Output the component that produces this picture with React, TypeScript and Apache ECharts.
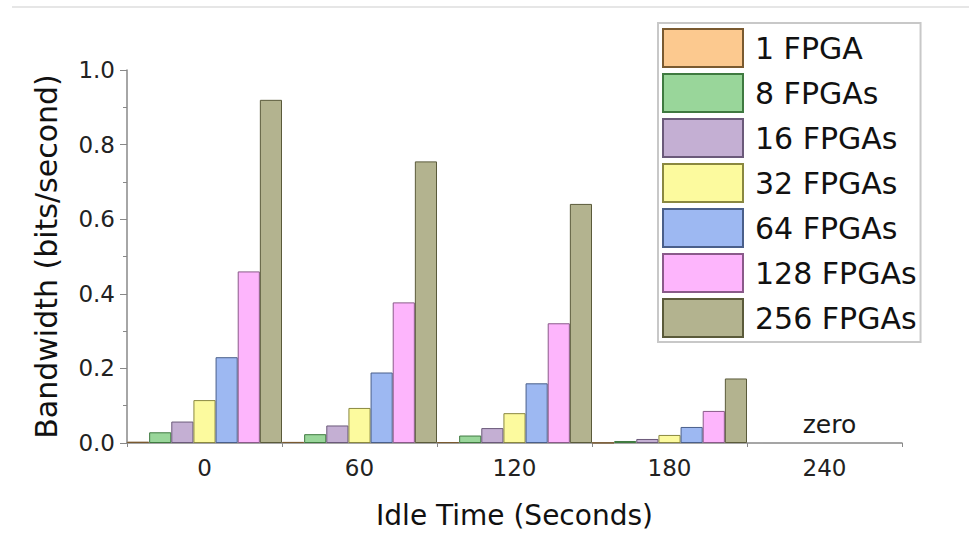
import React, { useEffect, useRef } from "react";
import * as echarts from "echarts";

const categories = ["0", "60", "120", "180", "240"];
const seriesNames = ["1 FPGA", "8 FPGAs", "16 FPGAs", "32 FPGAs", "64 FPGAs", "128 FPGAs", "256 FPGAs"];
const fpga1 = [0.0036, 0.003, 0.0025, 0.0007, 0];
const fpga8 = [0.0287, 0.0236, 0.02, 0.0054, 0];
const fpga16 = [0.0575, 0.047, 0.04, 0.0108, 0];
const fpga32 = [0.115, 0.094, 0.08, 0.0216, 0];
const fpga64 = [0.23, 0.189, 0.16, 0.043, 0];
const fpga128 = [0.46, 0.377, 0.321, 0.086, 0];
const fpga256 = [0.92, 0.755, 0.641, 0.173, 0];
const yTicks = [0, 0.2, 0.4, 0.6, 0.8, 1.0];
const zeroNote = "zero";
const zeroCategory = "240";

const colors = ["#fcc98f", "#99d69a", "#c4afd3", "#fcfa9e", "#9db8f2", "#fdb5fc", "#b3b38f"];
const borders = ["#7a5a30", "#3f7a40", "#6b5a7a", "#8a8840", "#4a5f8a", "#8a5a8a", "#5a5a3a"];

const FONT = "DejaVu Sans";

export default function App() {
  const ref = useRef<HTMLDivElement>(null);
  useEffect(() => {
    document.body.style.margin = "0";
    const chart = echarts.init(ref.current!, null, { renderer: "svg" });
    const allData = [fpga1, fpga8, fpga16, fpga32, fpga64, fpga128, fpga256];
    const series: any[] = allData.map((d, i) => ({
      name: seriesNames[i],
      type: "bar",
      data: d.map((v) => (v === 0 ? { value: 0, itemStyle: { borderWidth: 0 } } : v)),
      barGap: "0%",
      barCategoryGap: "0%",
      itemStyle: { color: colors[i], borderColor: borders[i], borderWidth: 1 },
    }));
    series.push({
      name: "note",
      type: "scatter",
      symbolSize: 1,
      silent: true,
      itemStyle: { opacity: 0 },
      data: [[zeroCategory, 0]],
      label: {
        show: true,
        formatter: zeroNote,
        position: "top",
        distance: 6,
        offset: [5, 0],
        fontFamily: FONT,
        fontSize: 25,
        color: "#1a1a1a",
        opacity: 1,
      },
    });
    chart.setOption({
      animation: false,
      backgroundColor: "#fff",
      graphic: [
        {
          type: "line",
          shape: { x1: 12, y1: 7, x2: 969, y2: 7 },
          style: { stroke: "#e6e6e6", lineWidth: 2 },
        },
      ],
      grid: { left: 127, right: 67, top: 70, bottom: 86 },
      legend: {
        orient: "vertical",
        left: 658,
        top: 23,
        padding: [5, 4, 4, 4],
        itemWidth: 80,
        itemHeight: 38,
        itemGap: 5,
        icon: "rect",
        borderColor: "#c8c8c8",
        borderWidth: 2,
        backgroundColor: "#fff",
        textStyle: {
          fontFamily: FONT,
          fontSize: 30,
          color: "#111",
          width: 185,
          padding: [0, 0, 0, 7],
        },
        data: seriesNames,
      },
      xAxis: [
        {
          type: "category",
          data: categories,
          name: "Idle Time (Seconds)",
          nameLocation: "middle",
          nameGap: 58,
          nameTextStyle: { fontFamily: FONT, fontSize: 28, color: "#111" },
          axisLine: { lineStyle: { color: "#888", width: 1.5 } },
          axisTick: { alignWithLabel: true, length: 7, lineStyle: { color: "#888" } },
          axisLabel: { fontFamily: FONT, fontSize: 23, color: "#222", margin: 13 },
        },
        {
          type: "category",
          data: categories,
          position: "bottom",
          axisLine: { show: false },
          axisTick: { show: true, length: 4, lineStyle: { color: "#888" } },
          axisLabel: { show: false },
        },
      ],
      yAxis: {
        type: "value",
        min: yTicks[0],
        max: yTicks[yTicks.length - 1],
        interval: 0.2,
        name: "Bandwidth (bits/second)",
        nameLocation: "middle",
        nameGap: 66,
        nameTextStyle: { fontFamily: FONT, fontSize: 30, color: "#111" },
        axisLine: { show: true, lineStyle: { color: "#888", width: 1.5 } },
        axisTick: { show: true, length: 7, lineStyle: { color: "#888" } },
        minorTick: { show: true, splitNumber: 2, length: 4, lineStyle: { color: "#888" } },
        splitLine: { show: false },
        axisLabel: {
          fontFamily: FONT,
          fontSize: 23,
          color: "#222",
          margin: 12,
          formatter: (v: number) => v.toFixed(1),
        },
      },
      series,
    });
    return () => chart.dispose();
  }, []);
  return <div ref={ref} style={{ width: 969, height: 534 }} />;
}
